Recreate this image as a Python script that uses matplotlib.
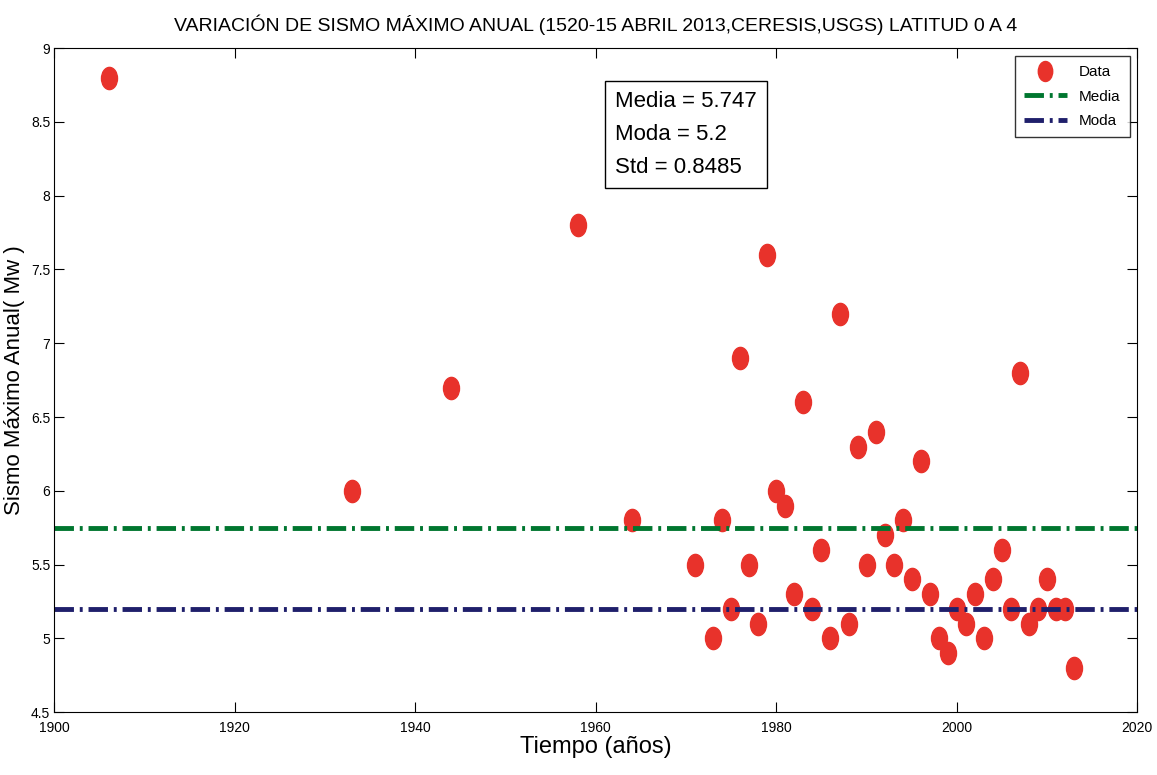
import numpy as np
import matplotlib.pyplot as plt
from matplotlib.path import Path

years = [1906, 1933, 1944, 1958, 1964, 1971, 1973, 1974, 1975, 1976, 1977, 1978,
         1979, 1980, 1981, 1982, 1983, 1984, 1985, 1986, 1987, 1988, 1989, 1990,
         1991, 1992, 1993, 1994, 1995, 1996, 1997, 1998, 1999, 2000, 2001, 2002,
         2003, 2004, 2005, 2006, 2007, 2008, 2009, 2010, 2011, 2012, 2013]
magnitudes = [8.8, 6.0, 6.7, 7.8, 5.8, 5.5, 5.0, 5.8, 5.2, 6.9, 5.5, 5.1,
              7.6, 6.0, 5.9, 5.3, 6.6, 5.2, 5.6, 5.0, 7.2, 5.1, 6.3, 5.5,
              6.4, 5.7, 5.5, 5.8, 5.4, 6.2, 5.3, 5.0, 4.9, 5.2, 5.1, 5.3,
              5.0, 5.4, 5.6, 5.2, 6.8, 5.1, 5.2, 5.4, 5.2, 5.2, 4.8]
media = 5.747
moda = 5.2
std = 0.8485

plt.rcParams['font.family'] = ['Liberation Sans', 'DejaVu Sans']

# slightly tall ellipse, like the stretched markers of the original
circ = Path.unit_circle()
ellipse = Path(circ.vertices * np.array([0.72, 1.0]), circ.codes)

fig = plt.figure(figsize=(11.57, 7.75), dpi=100)
ax = fig.add_axes([0.047, 0.081, 0.936, 0.857])

ax.plot(years, magnitudes, linestyle='none', marker=ellipse, markersize=16,
        color='#e8322b', markeredgecolor='#e8322b', label='Data')
ax.axhline(media, color='#00762f', linestyle='-.', linewidth=3.5,
           dashes=(4, 1.2, 0.6, 1.2), label='Media')
ax.axhline(moda, color='#1f1f6b', linestyle='-.', linewidth=3.5,
           dashes=(4, 1.2, 0.6, 1.2), label='Moda')

ax.set_xlim(1900, 2020)
ax.set_ylim(4.5, 9)
ax.set_xticks(np.arange(1900, 2021, 20))
ax.set_yticks(np.arange(4.5, 9.01, 0.5))
ax.set_yticklabels(['4.5', '5', '5.5', '6', '6.5', '7', '7.5', '8', '8.5', '9'])
ax.tick_params(direction='in', top=True, right=True, length=7, labelsize=10)
ax.tick_params(axis='x', pad=6)
ax.tick_params(axis='y', pad=3)

ax.set_title('VARIACIÓN DE SISMO MÁXIMO ANUAL (1520-15 ABRIL 2013,CERESIS,USGS) LATITUD 0 A 4',
             fontsize=14, pad=12)
ax.set_xlabel('Tiempo (años)', fontsize=17, labelpad=1)
ax.set_ylabel('Sismo Máximo Anual( Mw )', fontsize=16, labelpad=4)

ax.text(0.518, 0.935, 'Media = %.3f\nModa = %.1f\nStd = %.4f' % (media, moda, std),
        transform=ax.transAxes, fontsize=16, va='top', ha='left', linespacing=1.75,
        bbox=dict(boxstyle='square,pad=0.45', facecolor='white', edgecolor='black'))

leg = ax.legend(loc='upper right', fontsize=11, fancybox=False, edgecolor='black',
                handlelength=2.8, borderpad=0.6, labelspacing=0.7, markerscale=0.9,
                borderaxespad=0.5)
leg.get_frame().set_linewidth(1.0)

fig.savefig('out.png', dpi=100)
